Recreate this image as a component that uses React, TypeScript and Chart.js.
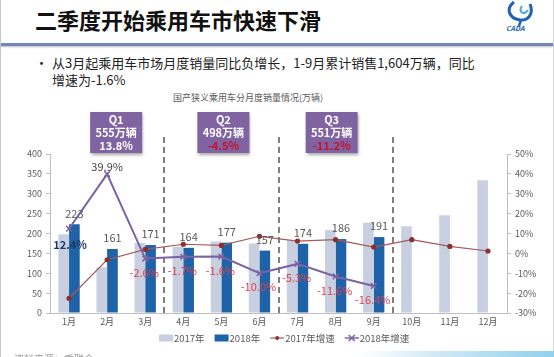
import React, { useEffect, useRef } from "react";
import { Chart, registerables } from "chart.js";

Chart.register(...registerables);

const FONT = '"Noto Sans CJK SC", "Noto Sans", sans-serif';

const months = ["1月", "2月", "3月", "4月", "5月", "6月", "7月", "8月", "9月", "10月", "11月", "12月"];
const sales2017 = [198, 115, 176, 167, 180, 175, 183, 209, 227, 218, 246, 334];
const sales2018 = [223, 161, 171, 164, 177, 157, 174, 186, 191, null, null, null];
const growth2017 = [-22.6, -3.2, 2.0, 4.6, 4.0, 8.6, 6.2, 6.9, 3.2, 6.9, 3.5, 1.2];
const growth2018 = [12.4, 39.9, -2.6, -1.7, -1.6, -10.0, -5.3, -11.6, -16.4, null, null, null];
const growth2018Labels = ["12.4%", "39.9%", "-2.6%", "-1.7%", "-1.6%", "-10.0%", "-5.3%", "-11.6%", "-16.4%"];
const quarterNames = ["Q1", "Q2", "Q3"];
const quarterSales = ["555万辆", "498万辆", "551万辆"];
const quarterGrowth = ["13.8%", "-4.5%", "-11.2%"];
const quarterMid = [1, 4, 7];
const quarterEnd = [2, 5, 8];
const legendNames = ["2017年", "2018年", "2017年增速", "2018年增速"];

const C17 = "#c7cfe1";
const C18 = "#1e62a7";
const CG17 = "#a65a5a";
const CG18 = "#7b62a3";
const RED = "#e2404c";

export default function App() {
  const ref = useRef<HTMLCanvasElement>(null);

  useEffect(() => {
    const canvas = ref.current!;
    const overlay = {
      id: "overlay",
      beforeDatasetsDraw(chart: any) {
        const { ctx, chartArea, scales } = chart;
        const x = scales.x;
        ctx.save();
        ctx.strokeStyle = "#808080";
        ctx.lineWidth = 2;
        ctx.setLineDash([6, 4]);
        quarterEnd.forEach((i) => {
          const px = Math.round((x.getPixelForValue(i) + x.getPixelForValue(i + 1)) / 2);
          ctx.beginPath();
          ctx.moveTo(px, chartArea.top - 17);
          ctx.lineTo(px, chartArea.bottom);
          ctx.stroke();
        });
        ctx.restore();
      },
      afterDatasetsDraw(chart: any) {
        const { ctx, chartArea, scales } = chart;
        const x = scales.x;
        ctx.save();
        ctx.textAlign = "center";
        ctx.textBaseline = "middle";
        // 2018 bar labels
        const barMeta = chart.getDatasetMeta(1);
        ctx.font = `11px ${FONT}`;
        ctx.fillStyle = "#595959";
        sales2018.forEach((v, i) => {
          if (v == null) return;
          const el = barMeta.data[i];
          ctx.fillText(String(v), el.x, el.y - 11);
        });
        // 2018 growth labels
        const gMeta = chart.getDatasetMeta(3);
        growth2018Labels.forEach((t, i) => {
          const el = gMeta.data[i];
          if (i === 0) {
            ctx.fillStyle = "#1f3864";
            ctx.font = `bold 11px ${FONT}`;
            ctx.fillText(t, el.x + 1, el.y + 16);
          } else if (i === 1) {
            ctx.fillStyle = "#404040";
            ctx.font = `11px ${FONT}`;
            ctx.fillText(t, el.x, el.y - 7);
          } else {
            ctx.fillStyle = RED;
            ctx.font = `11px ${FONT}`;
            ctx.fillText(t, el.x - 1, el.y + 14);
          }
        });
        // Quarter boxes
        const offs = [9, 2, -4];
        quarterMid.forEach((m, q) => {
          const cx = x.getPixelForValue(m) + offs[q];
          const w = 52;
          const h = 41;
          const top = chartArea.top - 42;
          ctx.save();
          ctx.shadowColor = "rgba(0,0,0,0.35)";
          ctx.shadowBlur = 3;
          ctx.shadowOffsetX = 1;
          ctx.shadowOffsetY = 2;
          ctx.fillStyle = "#8064a2";
          ctx.fillRect(cx - w / 2, top, w, h);
          ctx.restore();
          ctx.font = `bold 11px ${FONT}`;
          ctx.fillStyle = "#ffffff";
          ctx.fillText(quarterNames[q], cx, top + 8);
          ctx.fillText(quarterSales[q], cx, top + 21);
          ctx.fillStyle = q === 0 ? "#ffffff" : "#c8102e";
          ctx.fillText(quarterGrowth[q], cx, top + 34);
        });
        // Legend
        ctx.textAlign = "left";
        ctx.font = `9.5px ${FONT}`;
        let lx = 159;
        const ly = 338;
        legendNames.forEach((name, i) => {
          if (i < 2) {
            ctx.fillStyle = i === 0 ? C17 : C18;
            ctx.fillRect(lx, ly - 3.5, 14, 7);
          } else {
            ctx.strokeStyle = i === 2 ? CG17 : CG18;
            ctx.lineWidth = i === 2 ? 1.2 : 1.5;
            ctx.beginPath();
            ctx.moveTo(lx, ly);
            ctx.lineTo(lx + 14, ly);
            ctx.stroke();
            if (i === 2) {
              ctx.fillStyle = "#8c2f2f";
              ctx.beginPath();
              ctx.arc(lx + 7, ly, 2, 0, Math.PI * 2);
              ctx.fill();
            } else {
              ctx.beginPath();
              ctx.moveTo(lx + 4, ly - 3);
              ctx.lineTo(lx + 10, ly + 3);
              ctx.moveTo(lx + 10, ly - 3);
              ctx.lineTo(lx + 4, ly + 3);
              ctx.stroke();
            }
          }
          lx += 15;
          ctx.fillStyle = "#595959";
          ctx.fillText(name, lx, ly);
          lx += ctx.measureText(name).width + 10;
        });
        ctx.restore();
      },
    };

    const chart = new Chart(canvas, {
      type: "bar",
      data: {
        labels: months,
        datasets: [
          {
            type: "bar",
            label: "2017年",
            data: sales2017,
            backgroundColor: C17,
            yAxisID: "y",
            order: 2,
            categoryPercentage: 0.56,
            barPercentage: 1,
          },
          {
            type: "bar",
            label: "2018年",
            data: sales2018,
            backgroundColor: C18,
            yAxisID: "y",
            order: 2,
            categoryPercentage: 0.56,
            barPercentage: 1,
          },
          {
            type: "line",
            label: "2017年增速",
            data: growth2017,
            borderColor: CG17,
            borderWidth: 1.2,
            pointStyle: "circle",
            pointRadius: 2,
            pointBackgroundColor: "#8c2f2f",
            pointBorderColor: "#8c2f2f",
            yAxisID: "y1",
            order: 1,
          },
          {
            type: "line",
            label: "2018年增速",
            data: growth2018,
            borderColor: CG18,
            borderWidth: 2,
            pointStyle: "crossRot",
            pointRadius: 4,
            pointBorderWidth: 1.5,
            pointBorderColor: CG18,
            yAxisID: "y1",
            order: 0,
          },
        ] as any,
      },
      options: {
        animation: false,
        responsive: false,
        maintainAspectRatio: false,
        layout: { padding: { top: 154, bottom: 24, left: 0, right: 0 } },
        plugins: {
          legend: { display: false },
          tooltip: { enabled: false },
          title: { display: false },
        },
        scales: {
          x: {
            grid: { display: false, drawTicks: false },
            border: { display: true, color: "#bfbfbf" },
            ticks: { font: { size: 9, family: FONT }, color: "#595959", padding: 3 },
            afterFit: (s: any) => {
              s.height = 20;
            },
          },
          y: {
            position: "left",
            min: 0,
            max: 400,
            ticks: { stepSize: 50, font: { size: 9, family: FONT }, color: "#595959", padding: 4 },
            grid: { drawOnChartArea: false, drawTicks: true, tickLength: 4, color: "#bfbfbf" },
            border: { display: true, color: "#bfbfbf" },
            afterFit: (s: any) => {
              s.width = 50;
            },
          },
          y1: {
            position: "right",
            min: -30,
            max: 50,
            ticks: {
              stepSize: 10,
              font: { size: 9, family: FONT },
              color: "#595959",
              padding: 4,
              callback: (v: any) => `${v}%`,
            },
            grid: { drawOnChartArea: false, drawTicks: true, tickLength: 4, color: "#bfbfbf" },
            border: { display: true, color: "#bfbfbf" },
            afterFit: (s: any) => {
              s.width = 47;
            },
          },
        },
      } as any,
      plugins: [overlay],
    });
    return () => chart.destroy();
  }, []);

  return (
    <div
      style={{
        position: "fixed",
        left: 0,
        top: 0,
        width: 554,
        height: 357,
        overflow: "hidden",
        background: "#ffffff",
        fontFamily: FONT,
      }}
    >
      <div style={{ position: "absolute", left: 0, top: 0, width: 1, height: 357, background: "#c8c8c8" }} />
      <div style={{ position: "absolute", right: 0, top: 0, width: 1, height: 357, background: "#d8d8d8" }} />
      <div
        style={{
          position: "absolute",
          left: 35,
          top: 8,
          fontSize: 22,
          lineHeight: "22px",
          fontWeight: 700,
          color: "#111",
          whiteSpace: "nowrap",
        }}
      >
        二季度开始乘用车市快速下滑
      </div>
      <svg style={{ position: "absolute", left: 500, top: 0 }} width={46} height={36} viewBox="0 0 46 36">
        <path d="M14 2 C 6 8, 8 18, 20 20 C 28 21, 34 14, 30 4" fill="none" stroke="#1f63b5" strokeWidth={3} />
        <path d="M22 6 C 18 12, 24 16, 28 10" fill="none" stroke="#4fa3df" strokeWidth={2} />
        <path d="M21 20 L 19 26" stroke="#1f63b5" strokeWidth={2.5} />
        <text x={6} y={31} fontSize={7} fontStyle="italic" fontWeight={700} fill="#1f63b5" fontFamily={FONT}>
          CADA
        </text>
      </svg>
      <div
        style={{
          position: "absolute",
          left: 1,
          top: 43,
          width: 552,
          height: 3,
          background: "#7586b6",
          boxShadow: "0 1px 2px rgba(80,90,130,0.4)",
        }}
      />
      <div style={{ position: "absolute", left: 35, top: 54, fontSize: 13, lineHeight: "17px", color: "#222" }}>•</div>
      <div
        style={{
          position: "absolute",
          left: 52,
          top: 54,
          fontSize: 13,
          lineHeight: "17px",
          color: "#222",
          whiteSpace: "nowrap",
        }}
      >
        从3月起乘用车市场月度销量同比负增长，1-9月累计销售1,604万辆，同比
        <br />
        增速为-1.6%
      </div>
      <div
        style={{
          position: "absolute",
          left: 173,
          top: 92,
          fontSize: 9,
          lineHeight: "12px",
          color: "#595959",
          whiteSpace: "nowrap",
        }}
      >
        国产狭义乘用车分月度销量情况(万辆)
      </div>
      <canvas
        ref={ref}
        width={554}
        height={357}
        style={{ position: "absolute", left: 0, top: 0, width: 554, height: 357 }}
      />
      <div
        style={{
          position: "absolute",
          left: 14,
          top: 353,
          fontSize: 10,
          lineHeight: "12px",
          color: "#9a9a9a",
          whiteSpace: "nowrap",
        }}
      >
        资料来源：乘联会
      </div>
      <div
        style={{
          position: "absolute",
          left: 360,
          top: 351,
          width: 194,
          height: 6,
          background: "linear-gradient(90deg, rgba(255,255,255,0), #cfe9f6 40%, #8fd0ec)",
        }}
      />
    </div>
  );
}
